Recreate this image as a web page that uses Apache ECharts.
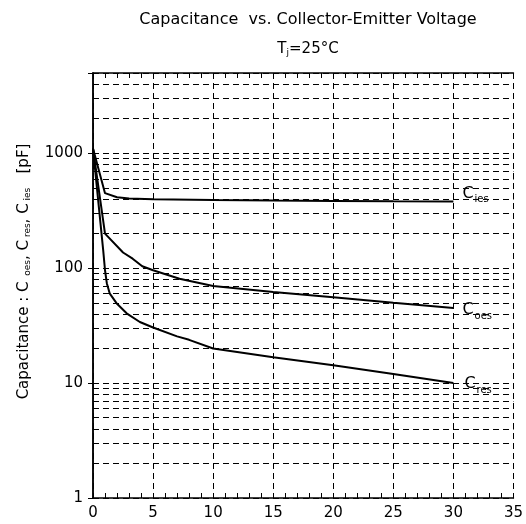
<!DOCTYPE html>
<html><head><meta charset="utf-8">
<script src="https://cdn.jsdelivr.net/npm/echarts@6/dist/echarts.min.js"></script>
<style>html,body{margin:0;padding:0;background:#fff}#c{width:526px;height:524px}</style>
</head><body><div id="c"></div>
<script>
const titleText = 'Capacitance  vs. Collector-Emitter Voltage';
const subTitleText = 'T{s|j}=25°C';
const yAxisName = 'Capacitance : C{s|  oes}, C{s| res}, C{s| ies}   [pF]';
const xMin = 0, xMax = 35, xStep = 5;
const yMin = 1, yMax = 5000;
const yMinorGrid = [2,3,4,5,6,7,8,9,20,30,40,50,60,70,80,90,200,300,400,500,600,700,800,900,2000,3000,4000];
const seriesNames = ['ies', 'oes', 'res'];
const cies = [[0,1100],[1,450],[2,415],[3,405],[5,398],[10,392],[15,388],[20,385],[25,382],[30,380]];
const coes = [[0,1100],[1,200],[2.5,137],[3.3,121],[4.1,104],[5,96],[7.2,81],[10,70],[15,62],[20,56],[25,50],[30,45]];
const cres = [[0,1100],[0.85,143],[1,96],[1.15,74],[1.4,60],[2,49],[2.8,40.5],[3.9,34],[5,30.5],[7,25.5],[8,23.8],[10,20],[15,16.8],[20,14.3],[25,12],[30,10]];

const FONT = 'DejaVu Sans';
const dash = [6,4];
const chart = echarts.init(document.getElementById('c'), null, {renderer:'canvas'});

function curve(name, data, offset) {
  return {
    type:'line', name: name, data: data, xAxisIndex:0, yAxisIndex:0,
    showSymbol:false, symbol:'none', silent:true,
    lineStyle:{color:'#000', width:2}, animation:false,
    endLabel:{show:true, formatter:'{c|C}{s|' + name + '}', distance:9, offset: offset,
      rich:{c:{fontFamily:FONT, fontSize:16, color:'#000', lineHeight:22, verticalAlign:'middle'},
            s:{fontFamily:FONT, fontSize:10, color:'#000', lineHeight:10, verticalAlign:'bottom', padding:[0,0,0,1]}}}
  };
}

const option = {
  animation:false,
  backgroundColor:'#fff',
  title:[
    {text:titleText, left:303, top:7, textAlign:'center',
     textStyle:{fontFamily:FONT, fontSize:16, fontWeight:'normal', color:'#000'}},
    {text:subTitleText, left:303, top:37, textAlign:'center',
     textStyle:{fontFamily:FONT, fontSize:15, fontWeight:'normal', color:'#000',
       rich:{s:{fontFamily:FONT, fontSize:9, color:'#000', verticalAlign:'bottom', lineHeight:8}}}}
  ],
  grid:{left:93, right:9, top:73, bottom:26, containLabel:false},
  xAxis:[
    {type:'value', min:xMin, max:xMax, interval:xStep, position:'bottom',
     axisLine:{show:true, lineStyle:{color:'#000', width:1.5}},
     axisTick:{show:true, inside:true, length:5, lineStyle:{color:'#000'}},
     minorTick:{show:true, splitNumber:5, length:5, lineStyle:{color:'#000'}},
     axisLabel:{fontFamily:FONT, fontSize:15, color:'#000', margin:8},
     splitLine:{show:true, lineStyle:{color:'#000', type:dash, width:1}}},
    {type:'value', min:xMin, max:xMax, interval:xStep, position:'top',
     axisLine:{show:true, lineStyle:{color:'#000', width:1.5}},
     axisTick:{show:true, inside:true, length:5, lineStyle:{color:'#000'}},
     minorTick:{show:true, splitNumber:5, length:5, lineStyle:{color:'#000'}},
     axisLabel:{show:false}, splitLine:{show:false}}
  ],
  yAxis:[
    {type:'log', logBase:10, min:yMin, max:yMax, position:'left',
     name:yAxisName, nameLocation:'middle', nameGap:61, nameRotate:90,
     nameTextStyle:{fontFamily:FONT, fontSize:15, color:'#000', padding:[0,0,0,28],
       rich:{s:{fontFamily:FONT, fontSize:9, color:'#000', verticalAlign:'bottom', lineHeight:9}}},
     axisLine:{show:true, lineStyle:{color:'#000', width:1.5}},
     axisTick:{show:true, inside:true, length:5, lineStyle:{color:'#000'}},
     axisLabel:{fontFamily:FONT, fontSize:15, color:'#000', margin:10, showMaxLabel:false,
       formatter:function(v){ return String(Math.round(v)); }},
     splitLine:{show:true, lineStyle:{color:'#000', type:dash, width:1}}},
    {type:'log', logBase:10, min:yMin, max:yMax, position:'right',
     axisLine:{show:true, lineStyle:{color:'#000', width:1.5}},
     axisTick:{show:true, inside:true, length:5, lineStyle:{color:'#000'}},
     axisLabel:{show:false}, splitLine:{show:false}}
  ],
  series:[
    {type:'line', data:[], xAxisIndex:0, yAxisIndex:0, silent:true,
     markLine:{silent:true, symbol:['none','none'], label:{show:false}, animation:false,
       lineStyle:{color:'#000', type:dash, width:1},
       data: yMinorGrid.map(function(v){ return {yAxis:v}; })}},
    curve(seriesNames[0], cies, [0,-8]),
    curve(seriesNames[1], coes, [0,2]),
    curve(seriesNames[2], cres, [2,1])
  ]
};
chart.setOption(option);
</script>
</body></html>
